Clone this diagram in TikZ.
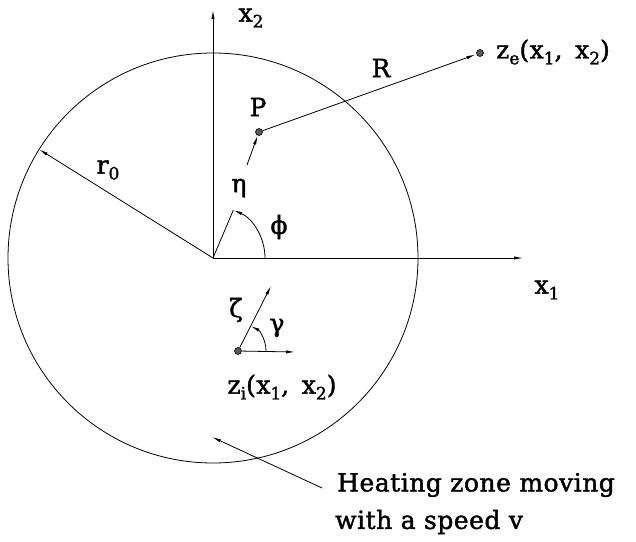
\documentclass[tikz,border=0pt]{standalone}
\usepackage{fontspec}
\setmainfont{DejaVu Serif}
\newfontfamily\lblfont{DejaVu Serif}[FakeBold=1.6,LetterSpace=2]
\usetikzlibrary{arrows.meta,calc}
\newcommand{\lowsub}[1]{\raisebox{-0.45ex}{\fontsize{17pt}{17pt}\selectfont #1}}
\tikzset{
  line/.style={line width=0.8pt},
  arr/.style={line width=0.8pt,-{Latex[length=9pt,width=3.2pt]}},
  dot/.style={circle,draw=black,fill=black!65,line width=0.6pt,inner sep=0pt,minimum size=7pt},
  lbl/.style={inner sep=0pt,font=\lblfont\fontsize{25pt}{28pt}\selectfont},
}
\begin{document}
\begin{tikzpicture}[x=1pt,y=1pt]
\useasboundingbox (0,0) rectangle (636,541);
% origin and circle
\coordinate (O) at (213,283);
\draw[line] (O) circle[radius=205];
% axes
\coordinate (X1) at (523,283);
\coordinate (X2) at (213,531);
\draw[arr] (O) -- (X1);
\draw[arr] (O) -- (X2);
\node[lbl] (lx2) at (251,523) {x\lowsub{2}};
\node[lbl] (lx1) at (547,251) {x\lowsub{1}};
% r0
\coordinate (R0) at ($(O)+(148:205)$);
\draw[arr] (O) -- (R0);
\node[lbl] (lr0) at (108,371) {r\lowsub{0}};
% eta and phi
\coordinate (E1) at ($(O)+(67:52)$);
\coordinate (E2) at (247,376);
\node[dot] (P) at (259,409) {};
\draw[line] (O) -- (E1);
\draw[arr] (E2) -- (P);
\node[lbl] (leta) at (239,353) {η};
\coordinate (A0) at ($(O)+(0:52)$);
\draw[arr] (A0) arc[start angle=0,end angle=67,radius=52];
\node[lbl] (lphi) at (279,314) {ϕ};
\node[lbl] (lP) at (258,434) {P};
% R to ze
\node[dot] (ze) at (480,488) {};
\draw[arr,shorten >=1pt] (P) -- (ze);
\node[lbl] (lR) at (381,473) {R};
\node[lbl,anchor=west] (lze) at (496,489) {z\lowsub{e}(x\lowsub{1},\, x\lowsub{2})};
% zi
\node[dot] (zi) at (238,190) {};
\coordinate (Z) at (271,255);
\coordinate (G) at (295,189);
\draw[arr] (zi) -- (Z);
\draw[arr] (zi) -- (G);
\coordinate (B0) at ($(zi)+(0:28)$);
\draw[arr] (B0) arc[start angle=0,end angle=63,radius=28];
\node[lbl] (lzeta) at (236,231) {ζ};
\node[lbl] (lgam) at (277,213) {γ};
\node[lbl] (lzi) at (282,154) {z\lowsub{i}(x\lowsub{1},\, x\lowsub{2})};
% heating zone
\coordinate (H1) at (322,53);
\coordinate (H2) at (212,104);
\draw[arr] (H1) -- (H2);
\node[lbl,anchor=west] (t1) at (337,56) {Heating zone moving};
\node[lbl,anchor=west] (t2) at (335,19) {with a speed v};
\end{tikzpicture}
\end{document}
